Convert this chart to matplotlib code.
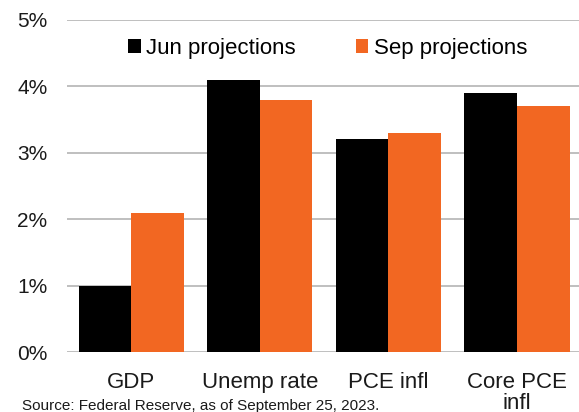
import matplotlib.pyplot as plt
import numpy as np
from matplotlib.ticker import FuncFormatter

categories = ["GDP", "Unemp rate", "PCE infl", "Core PCE\ninfl"]
jun_projections = [1.0, 4.1, 3.2, 3.9]
sep_projections = [2.1, 3.8, 3.3, 3.7]

BLACK = "#000000"
ORANGE = "#F26722"
GRID = "#BFBFBF"

plt.rcParams["font.family"] = ["Liberation Sans", "DejaVu Sans"]

fig = plt.figure(figsize=(5.79, 4.12), dpi=100)
ax = fig.add_axes([0.1157, 0.1456, 0.888, 0.806])

x = np.arange(len(categories))
w = 0.41
ax.bar(x - w / 2, jun_projections, w, color=BLACK, label="Jun projections", zorder=3)
ax.bar(x + w / 2, sep_projections, w, color=ORANGE, label="Sep projections", zorder=3)

ax.set_xlim(-0.5, 3.5)
ax.set_ylim(0, 5)
ax.set_yticks(range(0, 6))
ax.yaxis.set_major_formatter(FuncFormatter(lambda v, _: f"{v:.0f}%"))
ax.set_xticks(x)
ax.set_xticklabels(categories, linespacing=1.0)

ax.grid(axis="y", color=GRID, linewidth=1.4, zorder=0)
for side in ("top", "right", "left", "bottom"):
    ax.spines[side].set_visible(False)
ax.tick_params(axis="both", length=0, colors="#1a1a1a")
ax.tick_params(axis="y", labelsize=15, pad=14)
ax.tick_params(axis="x", labelsize=16, pad=14.5)

ax.legend(
    loc="center", bbox_to_anchor=(0.566, 0.883), bbox_transform=fig.transFigure,
    ncol=2, frameon=False, fontsize=16, handlelength=0.55, handleheight=0.55,
    handletextpad=0.25, columnspacing=2.7, borderaxespad=0,
)

fig.text(22 / 579, 1 - 399 / 412, "Source: Federal Reserve, as of September 25, 2023.",
         ha="left", va="top", fontsize=11, color="#1a1a1a")

fig.savefig("out.png", dpi=100)
